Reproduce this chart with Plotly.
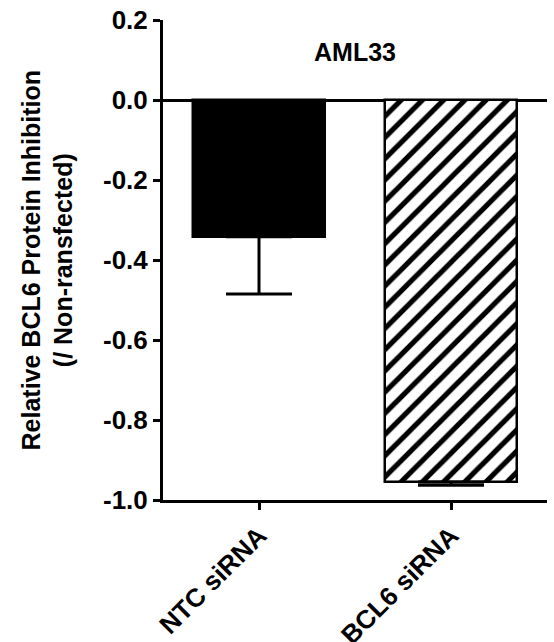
import plotly.graph_objects as go

categories = ["NTC siRNA", "BCL6 siRNA"]
values = [-0.342, -0.955]
err_minus = [0.143, 0.008]
err_plus = [0.0, 0.0]
y_ticks = [0.2, 0.0, -0.2, -0.4, -0.6, -0.8, -1.0]
y_tick_text = ["0.2", "0.0", "-0.2", "-0.4", "-0.6", "-0.8", "-1.0"]
fills = ["solid", "hatch"]

FONT = "Liberation Sans, Arial, sans-serif"

fig = go.Figure()
for cat, val, em, ep, fill in zip(categories, values, err_minus, err_plus, fills):
    if fill == "solid":
        marker = dict(color="black", line=dict(color="black", width=2.5))
    else:
        marker = dict(color="white", line=dict(color="black", width=2.5),
                      pattern=dict(shape="/", fgcolor="black", bgcolor="white",
                                   fgopacity=1, fillmode="replace",
                                   size=15, solidity=0.35))
    fig.add_trace(go.Bar(
        x=[cat], y=[val], width=0.69, marker=marker, opacity=1,
        error_y=dict(type="data", symmetric=False, array=[ep],
                     arrayminus=[em], color="black", thickness=3, width=33),
        showlegend=False,
    ))

fig.update_layout(
    width=554, height=642,
    margin=dict(l=163, r=7, t=20, b=142),
    plot_bgcolor="white", paper_bgcolor="white",
    font=dict(family=FONT, size=25, color="black"),
    barmode="overlay", bargap=0,
)
fig.update_xaxes(
    range=[-0.5, 1.5], automargin=False,
    categoryorder="array", categoryarray=categories,
    showline=True, linecolor="black", linewidth=3,
    ticks="outside", ticklen=7, tickwidth=3, tickcolor="black",
    tickangle=-45, showgrid=False, zeroline=False,
    tickfont=dict(family=FONT, size=26, color="black", weight="bold"),
)
fig.update_yaxes(
    range=[-1.0, 0.2], automargin=False,
    tickvals=y_ticks, ticktext=y_tick_text,
    showline=True, linecolor="black", linewidth=3,
    ticks="outside", ticklen=7, tickwidth=3, tickcolor="black",
    showgrid=False, zeroline=True, zerolinecolor="black", zerolinewidth=3,
    tickfont=dict(family=FONT, size=26, color="black", weight="bold"),
)
fig.add_annotation(
    text="<b>Relative BCL6 Protein Inhibition</b><br><b>(/ Non-ransfected)</b>",
    xref="paper", yref="paper", x=(46.5 - 163) / 384, y=0.5,
    xanchor="center", yanchor="middle", textangle=-90, showarrow=False,
    font=dict(family=FONT, size=25, color="black"),
)
fig.add_annotation(
    text="<b>AML33</b>",
    xref="paper", yref="paper", x=0.5, y=(500 - 52) / 480,
    xanchor="center", yanchor="middle", showarrow=False,
    font=dict(family=FONT, size=25, color="black"),
)
fig.write_html("out.html")
